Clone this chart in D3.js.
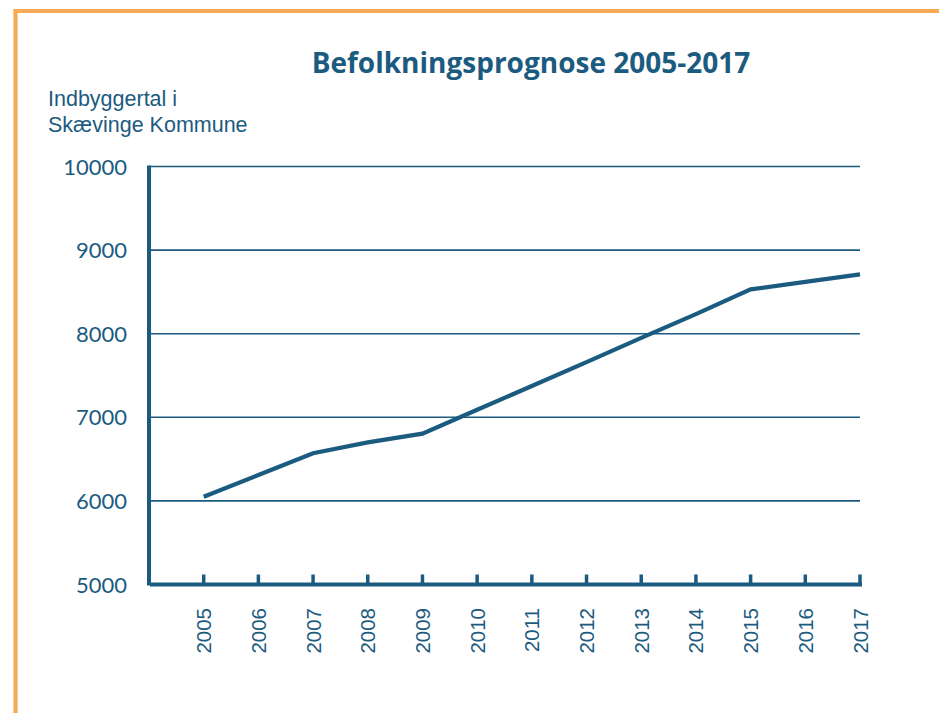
<!DOCTYPE html>
<html>
<head>
<meta charset="utf-8">
<script src="https://cdn.jsdelivr.net/npm/d3@7"></script>
<style>
  html, body { margin: 0; padding: 0; background: #fff; }
  svg { display: block; }
</style>
</head>
<body>
<svg id="chart" width="939" height="713"></svg>
<script>
const years = [2005, 2006, 2007, 2008, 2009, 2010, 2011, 2012, 2013, 2014, 2015, 2016, 2017];
const population = [6050, 6310, 6570, 6700, 6805, 7090, 7375, 7660, 7950, 8235, 8530, 8620, 8710];
const yTicks = [5000, 6000, 7000, 8000, 9000, 10000];
const titleText = "Befolkningsprognose 2005-2017";
const yLabelLines = ["Indbyggertal i", "Skævinge Kommune"];

const blue = "#1c5b80";
const orange = "#f9a855";

const svg = d3.select("#chart");

// orange frame
svg.append("path")
  .attr("d", "M15.5,713 L15.5,11 L939,11")
  .attr("fill", "none")
  .attr("stroke", orange)
  .attr("stroke-width", 4.2);

const x = d3.scaleLinear().domain([2004, 2017]).range([149, 860]);
const y = d3.scaleLinear().domain([5000, 10000]).range([584.5, 166.5]);

// gridlines
svg.append("g")
  .selectAll("line")
  .data(yTicks.filter(d => d > 5000))
  .join("line")
  .attr("x1", 149).attr("x2", 860)
  .attr("y1", d => y(d)).attr("y2", d => y(d))
  .attr("stroke", blue)
  .attr("stroke-width", 1.6);

// y tick labels
svg.append("g")
  .selectAll("text")
  .data(yTicks)
  .join("text")
  .attr("x", 127)
  .attr("y", d => y(d) + 8)
  .attr("text-anchor", "end")
  .attr("fill", blue)
  .style("font-family", "Lato, 'Noto Sans', sans-serif")
  .style("font-size", "22px")
  .text(d => d);

// left axis
svg.append("line")
  .attr("x1", 149).attr("x2", 149)
  .attr("y1", y(10000) - 1).attr("y2", y(5000) + 1)
  .attr("stroke", blue).attr("stroke-width", 4);

// bottom axis
svg.append("line")
  .attr("x1", 150).attr("x2", x(2017) + 2)
  .attr("y1", y(5000)).attr("y2", y(5000))
  .attr("stroke", blue).attr("stroke-width", 4);

// x ticks
svg.append("g")
  .selectAll("line")
  .data(years)
  .join("line")
  .attr("x1", d => x(d)).attr("x2", d => x(d))
  .attr("y1", y(5000)).attr("y2", y(5000) - 10)
  .attr("stroke", blue).attr("stroke-width", 3.5);

// x tick labels
svg.append("g")
  .selectAll("text")
  .data(years)
  .join("text")
  .attr("transform", d => `translate(${x(d) + 7.5},608) rotate(-90)`)
  .attr("text-anchor", "end")
  .attr("fill", blue)
  .style("font-family", "'Liberation Sans', Arial, sans-serif")
  .style("font-size", "20.5px")
  .text(d => d);

// line
const line = d3.line()
  .x((d, i) => x(years[i]))
  .y(d => y(d));
svg.append("path")
  .datum(population)
  .attr("d", line)
  .attr("fill", "none")
  .attr("stroke", blue)
  .attr("stroke-width", 4.2)
  .attr("stroke-linejoin", "miter");

// title
svg.append("text")
  .attr("x", 531)
  .attr("y", 73)
  .attr("text-anchor", "middle")
  .attr("fill", blue)
  .style("font-family", "'Open Sans', sans-serif")
  .style("font-weight", "700")
  .style("font-size", "28px")
  .text(titleText);

// y axis label
svg.append("g")
  .selectAll("text")
  .data(yLabelLines)
  .join("text")
  .attr("x", 48)
  .attr("y", (d, i) => 106 + i * 26)
  .attr("fill", blue)
  .style("font-family", "'Liberation Sans', Arial, sans-serif")
  .style("font-size", "21.5px")
  .text(d => d);
</script>
</body>
</html>
